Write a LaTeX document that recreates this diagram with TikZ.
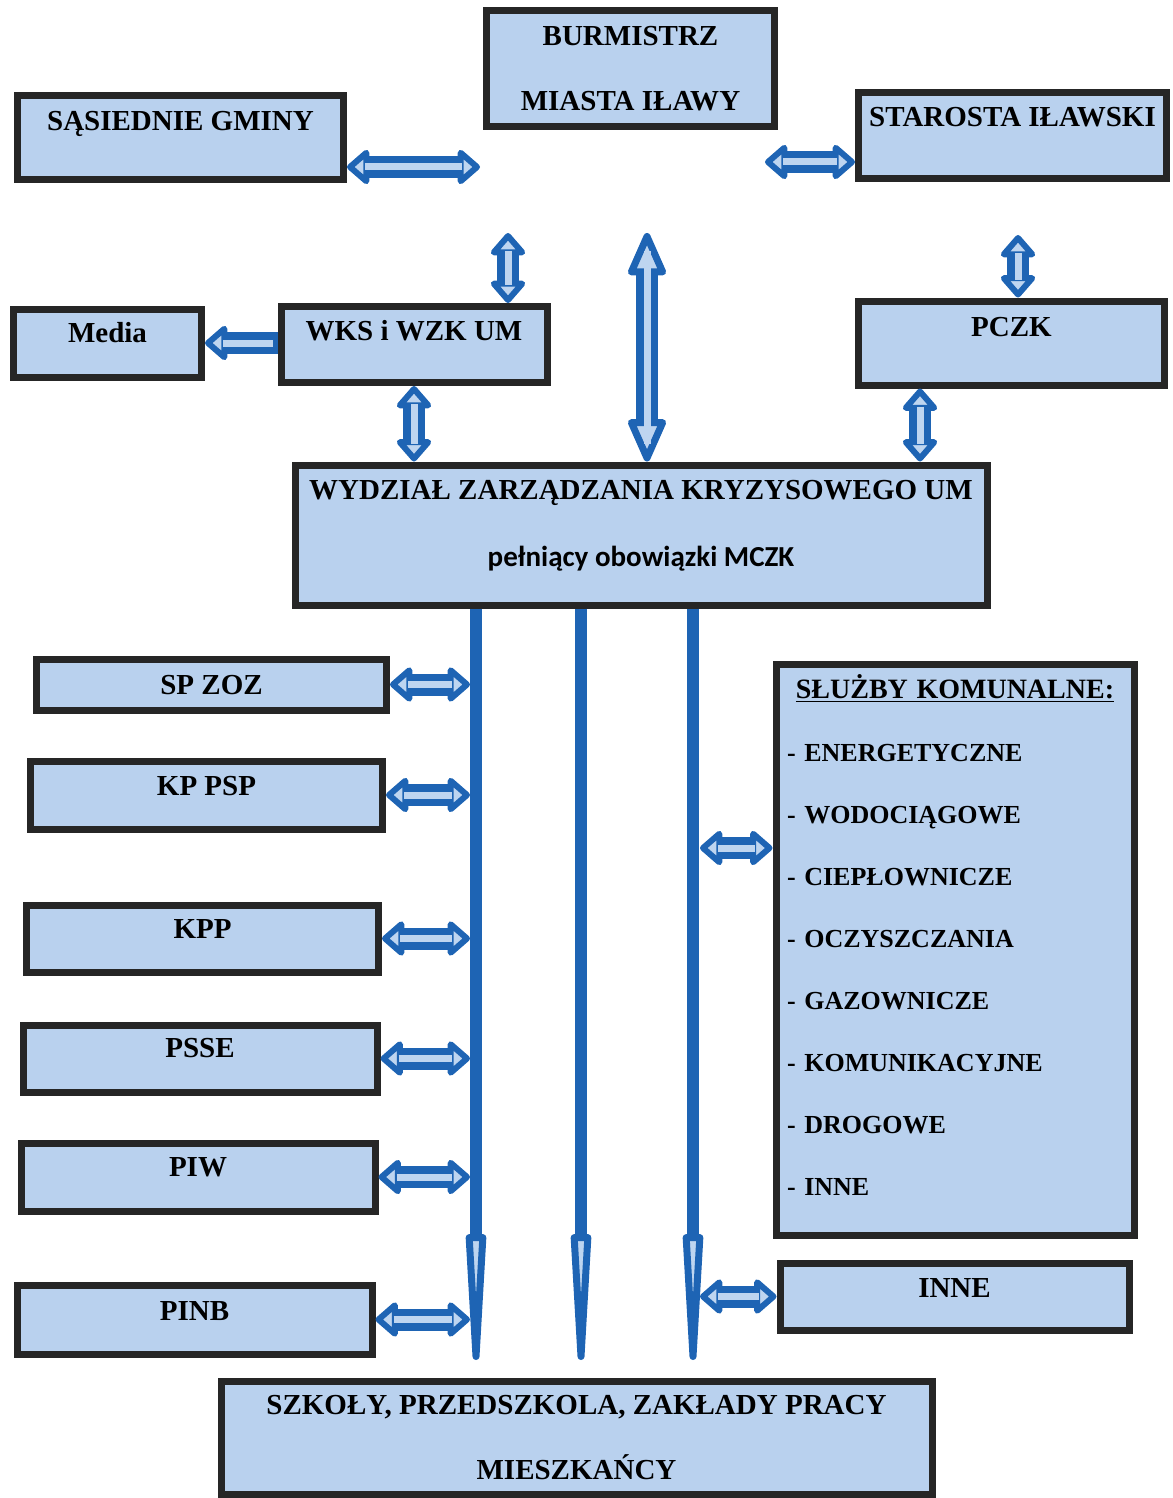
\documentclass[tikz,border=0pt]{standalone}
\usepackage{fontspec}
\setmainfont{Liberation Serif}
\newfontfamily\calfont{Carlito}
\usetikzlibrary{arrows.meta}
\definecolor{czBlue}{RGB}{30,100,180}
\definecolor{czLight}{RGB}{190,213,240}
\definecolor{czFill}{RGB}{185,209,238}
\definecolor{czEdge}{RGB}{38,38,38}

\begin{document}
\begin{tikzpicture}[
    x=0.5pt, y=-0.5pt,
    office/.style={draw=czEdge, line width=3.5pt, fill=czFill, inner sep=0pt, font=\fontsize{14.5}{17}\selectfont\bfseries},
    lift/.style={text height=10pt, text depth=#1},
    lift/.default=10pt,
    dbl/.style={draw=czBlue, line width=11pt,
      {Triangle[round, length=#1, width=20pt, line width=3.5pt, fill=czLight]}-{Triangle[round, length=#1, width=20pt, line width=3.5pt, fill=czLight]},
      postaction={draw=czLight, line width=3.5pt, arrows=-, shorten >=9pt, shorten <=9pt}},
    dbl/.default=12pt,
    sgl/.style={draw=czBlue, line width=11pt,
      -{Triangle[round, length=12pt, width=20pt, line width=3.5pt, fill=czLight]},
      postaction={draw=czLight, line width=3.5pt, arrows=-, shorten >=9pt, shorten <=2.5pt}},
    trunk/.style={draw=czBlue, line width=6pt,
      -{Triangle[round, length=97pt, width=9.5pt, line width=3.5pt, fill=czLight]}}
  ]
  \useasboundingbox (0,0) rectangle (1172,1498);

  \node[office, minimum width=144pt, minimum height=58pt, align=center] (burm) at (630.5,69) {BURMISTRZ\\[15.5pt]MIASTA IŁAWY};
  \node[office, lift=17pt, minimum width=163pt, minimum height=42pt] (sas) at (180.5,137.5) {SĄSIEDNIE GMINY};
  \node[office, lift=19pt, minimum width=154pt, minimum height=43pt] (star) at (1012.5,136) {STAROSTA IŁAWSKI};
  \node[office, lift=11pt, minimum width=94pt, minimum height=34pt] (media) at (107.5,343) {Media};
  \node[office, lift=14.5pt, minimum width=133pt, minimum height=38pt] (wks) at (414,344.5) {WKS i WZK UM};
  \node[office, lift=17pt, minimum width=153pt, minimum height=42pt] (pczk) at (1011.5,343) {PCZK};
  \node[office, minimum width=346pt, minimum height=70pt, align=center] (wzk) at (641,535)
    {WYDZIAŁ ZARZĄDZANIA KRYZYSOWEGO UM\\[16.5pt]{\calfont pełniący obowiązki MCZK}\rule[-11.5pt]{0pt}{0pt}};

  \node[office, lift=0pt, minimum width=175pt, minimum height=25.5pt] (spzoz) at (211.5,684.5) {SP ZOZ};
  \node[office, lift, minimum width=176pt, minimum height=34pt] (kppsp) at (206.5,795) {KP PSP};
  \node[office, lift=10.5pt, minimum width=176pt, minimum height=33.5pt] (kpp) at (202.5,938.5) {KPP};
  \node[office, lift=11.5pt, minimum width=177pt, minimum height=33.5pt] (psse) at (200,1058.5) {PSSE};
  \node[office, lift=11pt, minimum width=177pt, minimum height=34pt] (piw) at (198,1177) {PIW};
  \node[office, lift=9.5pt, minimum width=177.5pt, minimum height=34.5pt] (pinb) at (194.5,1319.5) {PINB};

  \node[office, minimum width=179pt, minimum height=285.5pt, text width=168pt, align=left,
    font=\fontsize{13}{18}\selectfont\bfseries] (sluzby) at (955,949.5)
    {\makebox[168pt][c]{\fontsize{14}{18}\selectfont\underline{SŁUŻBY KOMUNALNE:}}\\[13.5pt]
     - ENERGETYCZNE\\[13pt]
     - WODOCIĄGOWE\\[13pt]
     - CIEPŁOWNICZE\\[13pt]
     - OCZYSZCZANIA\\[13pt]
     - GAZOWNICZE\\[13pt]
     - KOMUNIKACYJNE\\[13pt]
     - DROGOWE\\[13pt]
     - INNE\rule[-14.7pt]{0pt}{0pt}};
  \node[office, lift=9.5pt, minimum width=174.5pt, minimum height=33.5pt] (inne) at (954.5,1296.5) {INNE};
  \node[office, minimum width=355.5pt, minimum height=56.5pt, align=center] (szkoly) at (576.5,1438)
    {SZKOŁY, PRZEDSZKOLA, ZAKŁADY PRACY\\[15.5pt]MIESZKAŃCY};

  \coordinate (sasTip) at (480,167);
  \coordinate (starTip) at (765,162);
  \coordinate (wksTop) at (508,233);
  \coordinate (wzkTop) at (647,233);
  \coordinate (pczkTop) at (1018,235);
  \coordinate (pczkLow) at (920,0);
  \coordinate (trunkL) at (476,1360);
  \coordinate (trunkM) at (581,1360);
  \coordinate (trunkR) at (693,1360);
  \coordinate (trunkLedge) at (470,0);
  \coordinate (trunkRedge) at (700,0);
  \coordinate (komY) at (0,848);

  \draw[dbl] (sas.east |- sasTip) -- (sasTip);
  \draw[dbl] (starTip) -- (star.west |- starTip);
  \draw[dbl] (wksTop) -- (wks.north -| wksTop);
  \draw[dbl=24pt] (wzkTop) -- (wzk.north -| wzkTop);
  \draw[dbl] (pczkTop) -- (pczk.north -| pczkTop);
  \draw[sgl] (wks.west |- media.east) -- (media.east);
  \draw[dbl] (wks.south) -- (wks.south |- wzk.north);
  \draw[dbl] (pczk.south -| pczkLow) -- (wzk.north -| pczkLow);

  \foreach \t in {trunkL,trunkM,trunkR}
    \draw[trunk] (wzk.south -| \t) -- (\t);
  \foreach \n in {spzoz,kppsp,kpp,psse,piw,pinb}
    \draw[dbl] (\n.east) -- (\n.east -| trunkLedge);
  \draw[dbl] (trunkRedge |- komY) -- (sluzby.west |- komY);
  \draw[dbl] (inne.west -| trunkRedge) -- (inne.west);
\end{tikzpicture}
\end{document}
